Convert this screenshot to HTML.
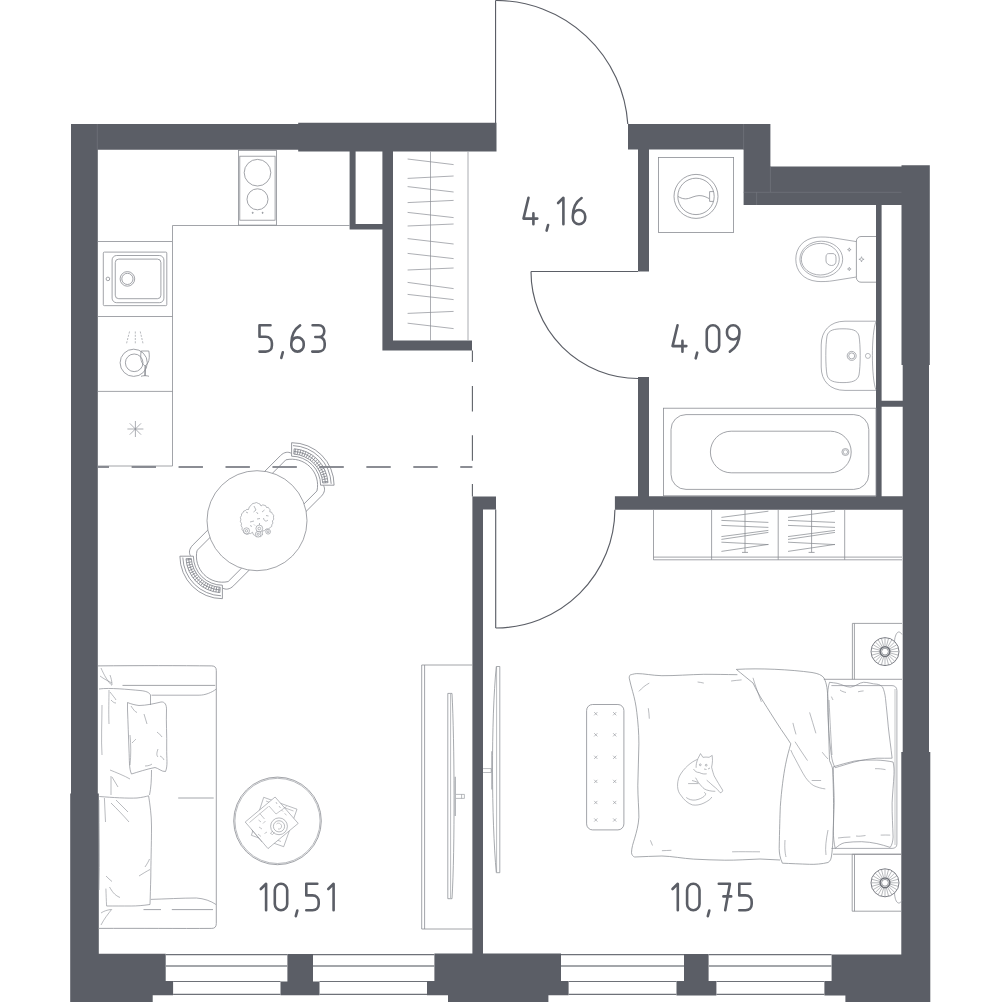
<!DOCTYPE html>
<html><head><meta charset="utf-8"><style>
html,body{margin:0;padding:0;background:#fff;}
svg{display:block;}
</style></head><body>
<svg width="1000" height="1002" viewBox="0 0 1000 1002">
<rect width="1000" height="1002" fill="#fff"/>
<path d="M71,124 H298.2 V122.7 H496.5 V151.6 H393 V340.4 H472 V350.6 H382.4 V229.4 H349.6 V151.6 H298.2 V149.8 H97.8 V793.5 H98.8 V953.7 H165.7 V981 H173.1 V995.3 H152.7 V1002 H70.2 V793.5 H71 Z M355.6,151.6 H382.4 V224 H355.6 Z M287.4,954 H313 V981.4 H319.5 V995.2 H280.5 V981.4 H287.4 Z M472.4,496.4 H496 V509.6 H483 V953.6 H561 V981 H568.6 V995.2 H548.4 V1002 H448 V995.2 H427 V981 H434.4 V953.6 H472.4 Z M684,954 H708.6 V981 H716.4 V995.4 H676.5 V981 H684 Z M628,124 H770.4 V166.4 H901.5 V165.2 H929.8 V365 H929 V752 H930.3 V1002 H845.4 V995.4 H824.4 V981 H831.6 V954.5 H901.3 V752 H902.7 V509.7 H614.9 V496.2 H638 V377 H649 V496.2 H876 V205 H743.6 V149.6 H649 V271.6 H638 V149.6 H628 Z M881.6,205 H901.5 V365 H902.7 V400.8 H881.6 Z M881.6,406.7 H902.7 V496.2 H881.6 Z" fill="#5b5e66" fill-rule="evenodd"/>
<line x1="97.3" y1="124" x2="97.3" y2="150" stroke="#767981" stroke-width="0.6"/>
<line x1="743.6" y1="124" x2="743.6" y2="149.6" stroke="#767981" stroke-width="0.6"/>
<line x1="743.6" y1="192.3" x2="901.5" y2="192.3" stroke="#767981" stroke-width="0.6"/>
<line x1="756.6" y1="192.2" x2="756.6" y2="205" stroke="#767981" stroke-width="0.6"/>
<line x1="770.4" y1="166.4" x2="770.4" y2="192.2" stroke="#767981" stroke-width="0.6"/>
<line x1="165.70" y1="954.60" x2="287.40" y2="954.60" stroke="#6e7178" stroke-width="1.4" />
<line x1="165.70" y1="966.00" x2="287.40" y2="966.00" stroke="#85888e" stroke-width="1.3" />
<line x1="313.00" y1="954.60" x2="434.40" y2="954.60" stroke="#6e7178" stroke-width="1.4" />
<line x1="313.00" y1="966.00" x2="434.40" y2="966.00" stroke="#85888e" stroke-width="1.3" />
<line x1="561.00" y1="954.60" x2="684.00" y2="954.60" stroke="#6e7178" stroke-width="1.4" />
<line x1="561.00" y1="966.00" x2="684.00" y2="966.00" stroke="#85888e" stroke-width="1.3" />
<line x1="708.60" y1="954.60" x2="831.60" y2="954.60" stroke="#6e7178" stroke-width="1.4" />
<line x1="708.60" y1="966.00" x2="831.60" y2="966.00" stroke="#85888e" stroke-width="1.3" />
<line x1="173.10" y1="981.50" x2="280.50" y2="981.50" stroke="#6e7178" stroke-width="1.1" />
<line x1="173.10" y1="994.40" x2="280.50" y2="994.40" stroke="#6e7178" stroke-width="1.1" />
<line x1="319.50" y1="981.50" x2="427.00" y2="981.50" stroke="#6e7178" stroke-width="1.1" />
<line x1="319.50" y1="994.40" x2="427.00" y2="994.40" stroke="#6e7178" stroke-width="1.1" />
<line x1="568.60" y1="981.50" x2="676.50" y2="981.50" stroke="#6e7178" stroke-width="1.1" />
<line x1="568.60" y1="994.40" x2="676.50" y2="994.40" stroke="#6e7178" stroke-width="1.1" />
<line x1="716.40" y1="981.50" x2="824.40" y2="981.50" stroke="#6e7178" stroke-width="1.1" />
<line x1="716.40" y1="994.40" x2="824.40" y2="994.40" stroke="#6e7178" stroke-width="1.1" />
<line x1="495.55" y1="0.50" x2="495.55" y2="123.00" stroke="#5b5e66" stroke-width="1.15" />
<path d="M495.55,0.5 A132.2,132.2 0 0 1 627.8,124" stroke="#5b5e66" stroke-width="1.15" fill="none" />
<line x1="531.00" y1="271.45" x2="638.00" y2="271.45" stroke="#5b5e66" stroke-width="1.15" />
<path d="M531,271.45 A107,107 0 0 0 638,378.45" stroke="#5b5e66" stroke-width="1.15" fill="none" />
<line x1="495.70" y1="509.60" x2="495.70" y2="628.00" stroke="#5b5e66" stroke-width="1.15" />
<path d="M495.7,628 A119.2,119.2 0 0 0 614.9,509.7" stroke="#5b5e66" stroke-width="1.15" fill="none" />
<path d="M97.6,241.5 H172.5 V466 H97.6 M97.6,316.5 H172.5 M97.6,391.4 H172.5 M172.5,241.5 V225.5 H349.6" stroke="#8a8d93" stroke-width="0.8" fill="none" />
<rect x="238.50" y="150.50" width="38.00" height="74.60" rx="0" stroke="#8a8d93" stroke-width="0.8" fill="none"/>
<rect x="239.80" y="156.20" width="35.30" height="64.00" rx="0" stroke="#8a8d93" stroke-width="0.8" fill="none"/>
<circle cx="257.50" cy="172.70" r="13.30" stroke="#8a8d93" stroke-width="0.8" fill="none"/>
<circle cx="257.50" cy="199.30" r="10.50" stroke="#8a8d93" stroke-width="0.8" fill="none"/>
<circle cx="252.70" cy="212.80" r="0.60" stroke="#8a8d93" stroke-width="0.6" fill="#8a8d93"/>
<circle cx="262.60" cy="212.80" r="0.60" stroke="#8a8d93" stroke-width="0.6" fill="#8a8d93"/>
<rect x="103.30" y="252.10" width="63.50" height="53.55" rx="1" stroke="#8a8d93" stroke-width="0.8" fill="none"/>
<rect x="112.10" y="255.50" width="51.80" height="47.20" rx="4.5" stroke="#8a8d93" stroke-width="0.8" fill="none"/>
<rect x="115.25" y="259.10" width="45.65" height="39.60" rx="3.5" stroke="#8a8d93" stroke-width="0.8" fill="none"/>
<circle cx="127.40" cy="278.90" r="7.30" stroke="#8a8d93" stroke-width="0.8" fill="none"/>
<circle cx="127.40" cy="278.90" r="5.60" stroke="#8a8d93" stroke-width="0.8" fill="none"/>
<circle cx="107.90" cy="278.90" r="1.80" stroke="#8a8d93" stroke-width="0.8" fill="none"/>
<circle cx="133.70" cy="362.80" r="13.60" stroke="#8a8d93" stroke-width="0.8" fill="none"/>
<circle cx="134.20" cy="362.80" r="8.80" stroke="#8a8d93" stroke-width="0.8" fill="none"/>
<path d="M141.2,351 H148.8 C149.6,355 149.6,360 147.8,363 C146.8,364.8 145.8,365.6 145,365.6 C144.2,365.6 143.2,364.8 142.2,363 C140.4,360 140.4,355 141.2,351 Z M145,365.6 L144.6,376 M145.6,365.6 L145.4,376 M141,376.3 C143,375.5 147,375.5 149,376.3" stroke="#8a8d93" stroke-width="0.8" fill="none" />
<line x1="129.50" y1="331.50" x2="129.10" y2="333.56" stroke="#8a8d93" stroke-width="0.6"/>
<line x1="128.68" y1="334.75" x2="128.28" y2="336.81" stroke="#8a8d93" stroke-width="0.6"/>
<line x1="127.85" y1="338.00" x2="127.45" y2="340.06" stroke="#8a8d93" stroke-width="0.6"/>
<line x1="127.03" y1="341.25" x2="126.63" y2="343.31" stroke="#8a8d93" stroke-width="0.6"/>
<line x1="135.30" y1="331.50" x2="135.30" y2="333.56" stroke="#8a8d93" stroke-width="0.6"/>
<line x1="135.30" y1="334.75" x2="135.30" y2="336.81" stroke="#8a8d93" stroke-width="0.6"/>
<line x1="135.30" y1="338.00" x2="135.30" y2="340.06" stroke="#8a8d93" stroke-width="0.6"/>
<line x1="135.30" y1="341.25" x2="135.30" y2="343.31" stroke="#8a8d93" stroke-width="0.6"/>
<line x1="140.30" y1="331.50" x2="140.66" y2="333.56" stroke="#8a8d93" stroke-width="0.6"/>
<line x1="141.05" y1="334.75" x2="141.41" y2="336.81" stroke="#8a8d93" stroke-width="0.6"/>
<line x1="141.80" y1="338.00" x2="142.16" y2="340.06" stroke="#8a8d93" stroke-width="0.6"/>
<line x1="142.55" y1="341.25" x2="142.91" y2="343.31" stroke="#8a8d93" stroke-width="0.6"/>
<line x1="127.40" y1="429.00" x2="143.40" y2="429.00" stroke="#8a8d93" stroke-width="0.7" />
<line x1="129.74" y1="423.34" x2="141.06" y2="434.66" stroke="#8a8d93" stroke-width="0.7" />
<line x1="135.40" y1="421.00" x2="135.40" y2="437.00" stroke="#8a8d93" stroke-width="0.7" />
<line x1="141.06" y1="423.34" x2="129.74" y2="434.66" stroke="#8a8d93" stroke-width="0.7" />
<line x1="468.00" y1="151.40" x2="468.00" y2="340.40" stroke="#a0a3a8" stroke-width="0.9" />
<line x1="430.50" y1="151.40" x2="430.50" y2="340.40" stroke="#8a8d93" stroke-width="0.7" />
<line x1="407.60" y1="159.00" x2="453.60" y2="164.60" stroke="#8a8d93" stroke-width="0.7" />
<line x1="407.60" y1="178.40" x2="453.60" y2="176.00" stroke="#8a8d93" stroke-width="0.7" />
<line x1="407.60" y1="186.60" x2="453.60" y2="192.00" stroke="#8a8d93" stroke-width="0.7" />
<line x1="407.60" y1="202.60" x2="453.60" y2="200.40" stroke="#8a8d93" stroke-width="0.7" />
<line x1="407.60" y1="212.40" x2="453.60" y2="217.60" stroke="#8a8d93" stroke-width="0.7" />
<line x1="407.60" y1="226.00" x2="453.60" y2="224.00" stroke="#8a8d93" stroke-width="0.7" />
<line x1="407.60" y1="238.60" x2="453.60" y2="244.00" stroke="#8a8d93" stroke-width="0.7" />
<line x1="407.60" y1="253.40" x2="453.60" y2="258.60" stroke="#8a8d93" stroke-width="0.7" />
<line x1="407.60" y1="270.00" x2="453.60" y2="268.00" stroke="#8a8d93" stroke-width="0.7" />
<line x1="407.60" y1="282.40" x2="453.60" y2="288.60" stroke="#8a8d93" stroke-width="0.7" />
<line x1="407.60" y1="294.40" x2="453.60" y2="299.60" stroke="#8a8d93" stroke-width="0.7" />
<line x1="407.60" y1="313.40" x2="453.60" y2="311.40" stroke="#8a8d93" stroke-width="0.7" />
<line x1="407.60" y1="323.20" x2="453.60" y2="328.60" stroke="#8a8d93" stroke-width="0.7" />
<g fill="none" stroke="#5b5e66" stroke-width="2.6" stroke-linecap="round" stroke-linejoin="round"><path transform="translate(259.50,325.20)" d="M11,0 H0 V11.6 H6.2 C10,11.6 12.4,14.2 12.4,17.9 V20.2 C12.4,23.9 10,26.4 6.2,26.4 H0"/><path transform="translate(282.80,352.30)" d="M0,0 L-1.5,5.6"/><path transform="translate(291.30,325.20)" d="M0,18.4 A6.2,6.2 0 0 1 12.4,18.4 V20.2 A6.2,6.2 0 0 1 0,20.2 Z M0,18.4 C0,9.5 3.4,3.8 8.8,0.2"/><path transform="translate(312.30,325.20)" d="M0.3,0 H6.5 C9.8,0 12,2.5 12,5.8 C12,9.3 9.8,11.8 6.5,11.8 H3 M6.5,11.8 C10,11.8 12.4,14.4 12.4,18 V20.2 C12.4,23.8 10,26.4 6.2,26.4 H0"/><path transform="translate(523.50,197.80)" d="M5,0 L0,20.8 H13.8 M9.9,15.6 V26.4"/><path transform="translate(548.10,225.00)" d="M0,0 L-1.5,5.6"/><path transform="translate(558.10,197.80)" d="M0,5.2 L5.3,0 V26.4"/><path transform="translate(572.80,197.80)" d="M0,18.4 A6.2,6.2 0 0 1 12.4,18.4 V20.2 A6.2,6.2 0 0 1 0,20.2 Z M0,18.4 C0,9.5 3.4,3.8 8.8,0.2"/><path transform="translate(672.55,325.30)" d="M5,0 L0,20.8 H13.8 M9.9,15.6 V26.4"/><path transform="translate(697.20,352.70)" d="M0,0 L-1.5,5.6"/><path transform="translate(706.75,325.30)" d="M0,6.2 A6.2,6.2 0 0 1 12.4,6.2 V20.2 A6.2,6.2 0 0 1 0,20.2 Z"/><path transform="translate(727.00,325.30)" d="M12.4,8 A6.2,6.2 0 0 1 0,8 V6.2 A6.2,6.2 0 0 1 12.4,6.2 Z M12.4,8 C12.4,16.9 8.8,22.8 2.9,26.4"/><path transform="translate(260.80,883.80)" d="M0,5.2 L5.3,0 V26.4"/><path transform="translate(274.80,883.80)" d="M0,6.2 A6.2,6.2 0 0 1 12.4,6.2 V20.2 A6.2,6.2 0 0 1 0,20.2 Z"/><path transform="translate(297.30,910.60)" d="M0,0 L-1.5,5.6"/><path transform="translate(306.30,883.80)" d="M11,0 H0 V11.6 H6.2 C10,11.6 12.4,14.2 12.4,17.9 V20.2 C12.4,23.9 10,26.4 6.2,26.4 H0"/><path transform="translate(328.30,883.80)" d="M0,5.2 L5.3,0 V26.4"/><path transform="translate(672.50,883.80)" d="M0,5.2 L5.3,0 V26.4"/><path transform="translate(687.10,883.80)" d="M0,6.2 A6.2,6.2 0 0 1 12.4,6.2 V20.2 A6.2,6.2 0 0 1 0,20.2 Z"/><path transform="translate(709.30,910.60)" d="M0,0 L-1.5,5.6"/><path transform="translate(718.80,883.80)" d="M0,0 H11.1 L6.4,26.4 M4.6,12.6 H12.4"/><path transform="translate(739.30,883.80)" d="M11,0 H0 V11.6 H6.2 C10,11.6 12.4,14.2 12.4,17.9 V20.2 C12.4,23.9 10,26.4 6.2,26.4 H0"/></g>
<rect x="658.40" y="157.40" width="75.20" height="75.00" rx="0" stroke="#8a8d93" stroke-width="0.8" fill="none"/>
<circle cx="696.00" cy="196.40" r="22.00" stroke="#8a8d93" stroke-width="0.8" fill="none"/>
<circle cx="696.00" cy="196.40" r="18.20" stroke="#8a8d93" stroke-width="0.8" fill="none"/>
<path d="M678,196.4 C682,199 686,199.5 690,198 C694,196.5 698,195 702,195.8 C705,196.4 707,197.5 709,198.5" stroke="#8a8d93" stroke-width="0.8" fill="none" />
<path d="M713.8,191.6 H709.6 V201.4 H713.4" stroke="#8a8d93" stroke-width="0.8" fill="none" />
<path d="M856.4,241.6 L834,238 C828,237 822,236.8 817,237.2 C803,238.5 795.8,248 795.8,259.3 C795.8,270.6 803,280 817,281.4 C822,281.8 828,281.6 834,280.6 L856.4,277" stroke="#8a8d93" stroke-width="0.7" fill="none" />
<ellipse cx="821.3" cy="259.2" rx="21.4" ry="18" stroke="#8a8d93" stroke-width="0.7" fill="none"/>
<ellipse cx="820.3" cy="259.2" rx="19" ry="15.8" stroke="#8a8d93" stroke-width="0.7" fill="none"/>
<path d="M828.5,253.6 H833 C835,253.6 836,255.5 836,258 V261 C836,263.5 834.5,265.5 831.5,265.5 C829,265.5 826,263.5 826,261 V257 C826,255 827,253.6 828.5,253.6 Z" stroke="#8a8d93" stroke-width="0.7" fill="none" />
<path d="M876,236.5 H861 C858.5,236.5 856.4,238.5 856.4,241 V277.7 C856.4,280.2 858.5,282.2 861,282.2 H876" stroke="#8a8d93" stroke-width="0.8" fill="none" />
<path d="M849.3,247.79999999999998 Q849.3,249.6 851.0999999999999,249.6 Q849.3,249.6 849.3,251.4 Q849.3,249.6 847.5,249.6 Q849.3,249.6 849.3,247.79999999999998 Z" stroke="#8a8d93" stroke-width="0.6" fill="none" />
<path d="M849.3,267.2 Q849.3,269 851.0999999999999,269 Q849.3,269 849.3,270.8 Q849.3,269 847.5,269 Q849.3,269 849.3,267.2 Z" stroke="#8a8d93" stroke-width="0.6" fill="none" />
<path d="M861.5,256.7 Q861.5,259.3 864.1,259.3 Q861.5,259.3 861.5,261.90000000000003 Q861.5,259.3 858.9,259.3 Q861.5,259.3 861.5,256.7 Z" stroke="#8a8d93" stroke-width="0.6" fill="none" />
<path d="M876,321.2 H845 C830,321.2 821.2,331 821.2,345 V367 C821.2,381 830,390.4 845,390.4 H876" stroke="#8a8d93" stroke-width="0.7" fill="none" />
<path d="M876,321.5 C871.2,333 871.2,378 876,390" stroke="#8a8d93" stroke-width="0.7" fill="none" />
<path d="M843,328.8 C852,328.8 857.5,330 859,336 C860.6,345 860.6,366 859,375 C857.5,381 852,382.6 843,382.6 C834,382.6 828.5,381 827,375 C825.4,366 825.4,345 827,336 C828.5,330 834,328.8 843,328.8 Z" stroke="#8a8d93" stroke-width="0.7" fill="none" />
<circle cx="851.70" cy="355.90" r="4.50" stroke="#8a8d93" stroke-width="0.7" fill="none"/>
<circle cx="851.70" cy="355.90" r="3.00" stroke="#8a8d93" stroke-width="0.7" fill="none"/>
<circle cx="867.90" cy="355.90" r="2.50" stroke="#8a8d93" stroke-width="0.6" fill="none"/>
<rect x="663.40" y="408.20" width="212.60" height="87.60" rx="0" stroke="#8a8d93" stroke-width="0.8" fill="none"/>
<rect x="671.00" y="414.60" width="197.80" height="74.80" rx="15" stroke="#8a8d93" stroke-width="0.8" fill="none"/>
<rect x="710.40" y="431.20" width="140.80" height="41.60" rx="20.8" stroke="#8a8d93" stroke-width="0.8" fill="none"/>
<circle cx="845.40" cy="452.00" r="3.50" stroke="#8a8d93" stroke-width="0.7" fill="none"/>
<circle cx="845.40" cy="452.00" r="2.20" stroke="#8a8d93" stroke-width="0.6" fill="none"/>
<path d="M653.5,509.6 V559.8 H902 M653.5,557.1 H902 M711.6,509.6 V559.8 M778.2,509.6 V559.8 M844.7,509.6 V559.8" stroke="#8a8d93" stroke-width="0.8" fill="none" />
<line x1="745.00" y1="509.60" x2="745.00" y2="552.40" stroke="#8a8d93" stroke-width="0.8" />
<line x1="742.00" y1="552.40" x2="748.00" y2="552.40" stroke="#8a8d93" stroke-width="0.8" />
<line x1="721.40" y1="517.40" x2="768.40" y2="511.20" stroke="#8a8d93" stroke-width="0.75" />
<line x1="721.40" y1="520.40" x2="768.40" y2="522.40" stroke="#8a8d93" stroke-width="0.75" />
<line x1="721.40" y1="525.40" x2="768.40" y2="527.40" stroke="#8a8d93" stroke-width="0.75" />
<line x1="721.40" y1="536.60" x2="768.40" y2="530.40" stroke="#8a8d93" stroke-width="0.75" />
<line x1="721.40" y1="539.40" x2="768.40" y2="532.40" stroke="#8a8d93" stroke-width="0.75" />
<line x1="721.40" y1="542.20" x2="768.40" y2="544.60" stroke="#8a8d93" stroke-width="0.75" />
<line x1="721.40" y1="551.40" x2="768.40" y2="544.40" stroke="#8a8d93" stroke-width="0.75" />
<line x1="811.60" y1="509.60" x2="811.60" y2="552.40" stroke="#8a8d93" stroke-width="0.8" />
<line x1="808.60" y1="552.40" x2="814.60" y2="552.40" stroke="#8a8d93" stroke-width="0.8" />
<line x1="788.00" y1="517.40" x2="835.00" y2="511.20" stroke="#8a8d93" stroke-width="0.75" />
<line x1="788.00" y1="520.40" x2="835.00" y2="522.40" stroke="#8a8d93" stroke-width="0.75" />
<line x1="788.00" y1="525.40" x2="835.00" y2="527.40" stroke="#8a8d93" stroke-width="0.75" />
<line x1="788.00" y1="536.60" x2="835.00" y2="530.40" stroke="#8a8d93" stroke-width="0.75" />
<line x1="788.00" y1="539.40" x2="835.00" y2="532.40" stroke="#8a8d93" stroke-width="0.75" />
<line x1="788.00" y1="542.20" x2="835.00" y2="544.60" stroke="#8a8d93" stroke-width="0.75" />
<line x1="788.00" y1="551.40" x2="835.00" y2="544.40" stroke="#8a8d93" stroke-width="0.75" />
<path d="M98,665.9 C140,665.5 180,665.6 211.8,665.9 Q216.3,666 216.3,670.5 V923.5 Q216.3,928.4 211.8,928.4 C180,928.6 140,928.2 98,928.4" stroke="#8a8d93" stroke-width="0.8" fill="none" />
<path d="M122.5,685.4 H215.2" stroke="#8a8d93" stroke-width="0.8" fill="none" />
<path d="M216.3,689 C212,692.5 205,695.2 199.2,695.2 H151.5" stroke="#8a8d93" stroke-width="0.7" fill="none" />
<path d="M150.8,899.4 C165,899 182,898 196.4,898 C204,898.5 211,901 216,904.5" stroke="#8a8d93" stroke-width="0.7" fill="none" />
<path d="M143.5,909.6 H161 M171.8,909.6 H213" stroke="#8a8d93" stroke-width="0.8" fill="none" />
<path d="M178.2,798 H213.7" stroke="#a3a6ab" stroke-width="1.0" fill="none" />
<path d="M99,689 C110,687.5 128,689.5 140,690.5 C146,691 149.5,692.5 150.5,695 V705 M151.5,770 C151.5,780 151,788 149.5,795" stroke="#8a8d93" stroke-width="0.7" fill="none" />
<path d="M99.3,796.5 C112,797.5 128,798.5 137,798 C142,797.5 146,796.5 148.6,795.8 C150,805 151.5,815 151.5,826 C151.5,845 150.8,865 150.8,877 C150.5,887 150.3,896 150,904.5 C143,905.5 137,906 131.2,906 C122,906 114,906 106.6,906" stroke="#8a8d93" stroke-width="0.7" fill="none" />
<path d="M101,668 C104,675 108,682 112,685.5" stroke="#8a8d93" stroke-width="0.6" fill="none" />
<path d="M100,676 C104,679 108,681 112,683" stroke="#8a8d93" stroke-width="0.6" fill="none" />
<path d="M110,675 C111,678 112,681 112,685" stroke="#8a8d93" stroke-width="0.6" fill="none" />
<path d="M102,705 C102,720 101,740 102,755" stroke="#8a8d93" stroke-width="0.6" fill="none" />
<path d="M109,690 C109,700 108.5,710 109,724" stroke="#8a8d93" stroke-width="0.6" fill="none" />
<path d="M110,692 C113,696 115,698 116,700" stroke="#8a8d93" stroke-width="0.6" fill="none" />
<path d="M111,700 C113,702 114,703 116,703" stroke="#8a8d93" stroke-width="0.6" fill="none" />
<path d="M110,770 C115,772 125,776 130,779" stroke="#8a8d93" stroke-width="0.6" fill="none" />
<path d="M111,776 C111,782 111,790 111,795" stroke="#8a8d93" stroke-width="0.6" fill="none" />
<path d="M112,777 C114,780 116,784 118,787" stroke="#8a8d93" stroke-width="0.6" fill="none" />
<path d="M104.4,798 C104.8,806 105.2,814 105.5,822" stroke="#8a8d93" stroke-width="0.6" fill="none" />
<path d="M105.9,888.6 C106.1,895 106.3,900 106.6,906" stroke="#8a8d93" stroke-width="0.6" fill="none" />
<path d="M111,803 C117,809 123,815 129,822" stroke="#8a8d93" stroke-width="0.6" fill="none" />
<path d="M116,800 C120,804 124,808 128,812" stroke="#8a8d93" stroke-width="0.6" fill="none" />
<path d="M106,876 C108,878 110,880 112,881.5" stroke="#8a8d93" stroke-width="0.6" fill="none" />
<path d="M109.5,887 C112,891 114,895 120,897.5" stroke="#8a8d93" stroke-width="0.6" fill="none" />
<path d="M139,876 C143,873.5 147,871 150,869.5" stroke="#8a8d93" stroke-width="0.6" fill="none" />
<path d="M145,867 C147,864 148.5,861.5 149.5,859" stroke="#8a8d93" stroke-width="0.6" fill="none" />
<path d="M101,913 C104,911 107,910 111,909.5" stroke="#8a8d93" stroke-width="0.6" fill="none" />
<path d="M101,925 C104,919 108,914 112,909" stroke="#8a8d93" stroke-width="0.6" fill="none" />
<path d="M99,800 C99,830 100,860 99,890" stroke="#8a8d93" stroke-width="0.6" fill="none" />
<path d="M127.5,702.5 C131,704 135,705 139,705.5 C146,705.5 155,703.5 161,702 C165,701.5 166.7,705 166.5,710 C166,722 167,735 166.7,748 C166.5,758 168,766 165.5,771.5 C162,772 158,768 155,767.5 C147,769 138,772 131.5,774 C129,769 129.5,760 129,750 C128.5,737 128,722 127.5,710 Z" stroke="#8a8d93" stroke-width="0.7" fill="none" />
<path d="M131,706 C133,709 135,712 137,712.5" stroke="#8a8d93" stroke-width="0.6" fill="none" />
<path d="M144,714 C145,717 146,721 147,724" stroke="#8a8d93" stroke-width="0.6" fill="none" />
<path d="M157,732 C159,734 161,735 162,737" stroke="#8a8d93" stroke-width="0.6" fill="none" />
<path d="M158,749 C157,752 156,755 158,757" stroke="#8a8d93" stroke-width="0.6" fill="none" />
<path d="M160,756 C162,757 163,758 164,760" stroke="#8a8d93" stroke-width="0.6" fill="none" />
<path d="M130,735 C131,745 131,755 130,765" stroke="#8a8d93" stroke-width="0.6" fill="none" />
<path d="M132,743 C134,741 135,740 136,739" stroke="#8a8d93" stroke-width="0.6" fill="none" />
<path d="M145,766 C148,766 151,765 152,764" stroke="#8a8d93" stroke-width="0.6" fill="none" />
<circle cx="277.50" cy="820.90" r="43.80" stroke="#8a8d93" stroke-width="0.8" fill="none"/>
<circle cx="277.50" cy="820.90" r="42.60" stroke="#8a8d93" stroke-width="0.6" fill="none"/>
<path d="M263.7,797.3 L297,809.2 L283.7,846.7 L251.4,835.3 Z" stroke="#8a8d93" stroke-width="0.6" fill="#fff" />
<path d="M266,801 L293.5,811 M256,832 L281,841.5" stroke="#8a8d93" stroke-width="0.5" fill="none" />
<path d="M275.1,797 L298.2,823.4 L268,848.6 L245.2,822 Z" stroke="#8a8d93" stroke-width="0.6" fill="#fff" />
<path d="M249.5,822.5 L268.5,806.5 M259.8,813.5 L264.5,819 M269,806 L276,814 L286.5,806.5 M262,842 L251.5,829.5" stroke="#8a8d93" stroke-width="0.5" fill="none" />
<path d="M276,802 L277,804 M279,806 L280.5,808 M281.5,810 L283,811.5 M284.5,813.5 L286.5,815 M258.5,820 L261,822 M263,823.5 L265.5,821 M259,827 L262,829 M258,834 L261,836.5 M264.5,833.5 L267,832" stroke="#8a8d93" stroke-width="0.5" fill="none" />
<circle cx="279.00" cy="826.30" r="8.40" stroke="#8a8d93" stroke-width="0.6" fill="#fff"/>
<circle cx="279.00" cy="826.30" r="5.60" stroke="#8a8d93" stroke-width="0.6" fill="none"/>
<path d="M276.5,824 C278,822.5 280.5,823 281.5,825.5 C282,828 280,829.5 278,829 M272.5,831 L270.5,833.5 L272.5,834.5 L274.5,832.5" stroke="#8a8d93" stroke-width="0.5" fill="none" />
<path d="M421.7,665 H472.4 M421.7,929 H472.4 M421.7,665 V929 M424.6,665 V929" stroke="#8a8d93" stroke-width="0.8" fill="none" />
<path d="M447.8,693.4 H452 C454.5,740 455,850 452,898.7 H447.8 Z" stroke="#8a8d93" stroke-width="0.75" fill="none" />
<path d="M450.6,694 V898" stroke="#8a8d93" stroke-width="0.6" fill="none" />
<path d="M455.2,776.8 V815.9" stroke="#a3a6ab" stroke-width="1.2" fill="none" />
<path d="M456,794.4 H464.4 V798.4 H456 M461.6,794.4 V798.4" stroke="#8a8d93" stroke-width="0.6" fill="none" />
<path d="M496.3,666.5 H499.8 V872.7 H496.3 C491.5,820 491,720 496.3,666.5 Z" stroke="#8a8d93" stroke-width="0.75" fill="none" />
<path d="M496.6,667 V872" stroke="#8a8d93" stroke-width="0.6" fill="none" />
<path d="M491.9,751.2 V789.4" stroke="#a3a6ab" stroke-width="1.2" fill="none" />
<path d="M483.1,768.6 H491.2 V772.5 H483.1" stroke="#8a8d93" stroke-width="0.6" fill="none" />
<g transform="translate(291.6,485.2) rotate(-45)" stroke="#7e8188" stroke-width="0.75" fill="none"><path d="M20.51,-20.51 L30.05,-30.05 A42.5,42.5 0 0 1 30.05,30.05 L20.51,20.51 A29,29 0 0 0 20.51,-20.51 Z"/><path d="M28.96,-27.01 A39.6,39.6 0 0 1 28.96,27.01"/><path d="M27.55,-23.95 A36.5,36.5 0 0 1 27.55,23.95"/><path d="M23.55,-20.47 A31.2,31.2 0 0 1 23.55,20.47"/><path d="M25.58,-22.24 A33.9,33.9 0 0 1 25.58,22.24"/><line x1="24.25" y1="-19.63" x2="28.37" y2="-22.97"/><line x1="25.66" y1="-17.75" x2="30.02" y2="-20.76"/><line x1="26.93" y1="-15.76" x2="31.50" y2="-18.43"/><line x1="28.04" y1="-13.68" x2="32.81" y2="-16.00"/><line x1="29.00" y1="-11.52" x2="33.92" y2="-13.48"/><line x1="29.78" y1="-9.30" x2="34.84" y2="-10.87"/><line x1="30.40" y1="-7.02" x2="35.56" y2="-8.21"/><line x1="30.84" y1="-4.70" x2="36.08" y2="-5.50"/><line x1="31.11" y1="-2.36" x2="36.40" y2="-2.76"/><line x1="31.20" y1="0.00" x2="36.50" y2="0.00"/><line x1="31.11" y1="2.36" x2="36.40" y2="2.76"/><line x1="30.84" y1="4.70" x2="36.08" y2="5.50"/><line x1="30.40" y1="7.02" x2="35.56" y2="8.21"/><line x1="29.78" y1="9.30" x2="34.84" y2="10.87"/><line x1="29.00" y1="11.52" x2="33.92" y2="13.48"/><line x1="28.04" y1="13.68" x2="32.81" y2="16.00"/><line x1="26.93" y1="15.76" x2="31.50" y2="18.43"/><line x1="25.66" y1="17.75" x2="30.02" y2="20.76"/><line x1="24.25" y1="19.63" x2="28.37" y2="22.97"/><line x1="23.55" y1="-20.47" x2="27.55" y2="-23.95"/><line x1="23.55" y1="20.47" x2="27.55" y2="23.95"/><path d="M-12,-28.8 L13,-28.8 C18.5,-28.8 21.5,-26 22.3,-22.9 M-12,28.8 L13,28.8 C18.5,28.8 21.5,26 22.3,22.9"/><path d="M-12,-22 L13.86,-22 A26,26 0 0 1 13.86,22 L-12,22"/></g>
<g transform="translate(222.4,556.2) rotate(135)" stroke="#7e8188" stroke-width="0.75" fill="none"><path d="M20.51,-20.51 L30.05,-30.05 A42.5,42.5 0 0 1 30.05,30.05 L20.51,20.51 A29,29 0 0 0 20.51,-20.51 Z"/><path d="M28.96,-27.01 A39.6,39.6 0 0 1 28.96,27.01"/><path d="M27.55,-23.95 A36.5,36.5 0 0 1 27.55,23.95"/><path d="M23.55,-20.47 A31.2,31.2 0 0 1 23.55,20.47"/><path d="M25.58,-22.24 A33.9,33.9 0 0 1 25.58,22.24"/><line x1="24.25" y1="-19.63" x2="28.37" y2="-22.97"/><line x1="25.66" y1="-17.75" x2="30.02" y2="-20.76"/><line x1="26.93" y1="-15.76" x2="31.50" y2="-18.43"/><line x1="28.04" y1="-13.68" x2="32.81" y2="-16.00"/><line x1="29.00" y1="-11.52" x2="33.92" y2="-13.48"/><line x1="29.78" y1="-9.30" x2="34.84" y2="-10.87"/><line x1="30.40" y1="-7.02" x2="35.56" y2="-8.21"/><line x1="30.84" y1="-4.70" x2="36.08" y2="-5.50"/><line x1="31.11" y1="-2.36" x2="36.40" y2="-2.76"/><line x1="31.20" y1="0.00" x2="36.50" y2="0.00"/><line x1="31.11" y1="2.36" x2="36.40" y2="2.76"/><line x1="30.84" y1="4.70" x2="36.08" y2="5.50"/><line x1="30.40" y1="7.02" x2="35.56" y2="8.21"/><line x1="29.78" y1="9.30" x2="34.84" y2="10.87"/><line x1="29.00" y1="11.52" x2="33.92" y2="13.48"/><line x1="28.04" y1="13.68" x2="32.81" y2="16.00"/><line x1="26.93" y1="15.76" x2="31.50" y2="18.43"/><line x1="25.66" y1="17.75" x2="30.02" y2="20.76"/><line x1="24.25" y1="19.63" x2="28.37" y2="22.97"/><line x1="23.55" y1="-20.47" x2="27.55" y2="-23.95"/><line x1="23.55" y1="20.47" x2="27.55" y2="23.95"/><path d="M-12,-28.8 L13,-28.8 C18.5,-28.8 21.5,-26 22.3,-22.9 M-12,28.8 L13,28.8 C18.5,28.8 21.5,26 22.3,22.9"/><path d="M-12,-22 L13.86,-22 A26,26 0 0 1 13.86,22 L-12,22"/></g>
<circle cx="257.00" cy="520.70" r="50.00" stroke="#8a8d93" stroke-width="0.8" fill="#fff"/>
<g stroke="#8a8d93" stroke-width="0.6" fill="none"><path d="M248.5,509.5 Q248.9,506.2 251,505.5 Q252.3,502.8 254.5,503.2 Q256.4,501.8 258.5,503.5 Q260.0,503.2 261,506 Q263.0,504.1 264,505.2 Q266.1,505.0 266.5,507.5 Q268.8,506.8 269,508.5 Q270.7,509.2 269.8,511.8 Q272.4,511.9 272.2,513.5 Q274.4,515.1 273.5,517.5 Q274.5,519.2 272.4,521 Q273.7,523.3 271.8,524.8 Q272.4,526.9 270.2,527.5 Q269.3,529.3 266,529 Q264.8,531.4 262,531 Q262.8,534.5 262.5,535 Q260.8,537.4 258.5,536.6 Q256.4,537.5 254.5,535.3 Q253.1,535.3 252.5,532.2 Q250.3,534.3 249.5,533.5 Q246.8,535.1 246,534 Q243.5,533.6 243.2,531 Q241.4,530.1 242.2,527.5 Q240.4,526.1 241.5,523.5 Q239.6,521.7 240.8,519.5 Q239.6,517.3 241.5,515.5 Q240.8,513.5 243.2,512.5 Q243.0,510.7 245.6,510.5 Q245.9,508.9 248.5,509.5"/><path d="M254,506 L256,510 L253.5,512"/><path d="M256.5,512 L258,514"/><path d="M262,512 L264.5,510"/><path d="M266,515.5 L268.5,516"/><path d="M263.5,518 C264,521 266,522 268,520"/><path d="M257,519 L260,518.5"/><path d="M250,522 L254,521"/><path d="M250.5,525 L251.5,527"/><path d="M254,524.5 L255,525.5"/><path d="M246,512 L248,513"/><path d="M259.5,523 L259.5,525"/><circle cx="246.5" cy="530.8" r="3.0" fill="#fff"/><circle cx="246.5" cy="530.8" r="1.20"/><circle cx="259.3" cy="528.5" r="3.4" fill="#fff"/><circle cx="259.3" cy="528.5" r="1.36"/><circle cx="258.2" cy="534.2" r="2.8" fill="#fff"/><circle cx="258.2" cy="534.2" r="1.12"/><circle cx="268.1" cy="531.7" r="2.4" fill="#fff"/><circle cx="268.1" cy="531.7" r="0.96"/></g>
<line x1="97.50" y1="467.00" x2="109.00" y2="467.00" stroke="#7e8188" stroke-width="1.8" />
<line x1="131.60" y1="467.00" x2="156.00" y2="467.00" stroke="#7e8188" stroke-width="1.8" />
<line x1="178.55" y1="467.00" x2="202.95" y2="467.00" stroke="#7e8188" stroke-width="1.8" />
<line x1="225.50" y1="467.00" x2="249.90" y2="467.00" stroke="#7e8188" stroke-width="1.8" />
<line x1="272.45" y1="467.00" x2="296.85" y2="467.00" stroke="#7e8188" stroke-width="1.8" />
<line x1="319.40" y1="467.00" x2="343.80" y2="467.00" stroke="#7e8188" stroke-width="1.8" />
<line x1="366.35" y1="467.00" x2="390.75" y2="467.00" stroke="#7e8188" stroke-width="1.8" />
<line x1="413.30" y1="467.00" x2="437.70" y2="467.00" stroke="#7e8188" stroke-width="1.8" />
<line x1="460.25" y1="467.00" x2="472.40" y2="467.00" stroke="#7e8188" stroke-width="1.8" />
<line x1="472.40" y1="350.60" x2="472.40" y2="362.00" stroke="#5e6168" stroke-width="1.1" />
<line x1="472.40" y1="386.00" x2="472.40" y2="411.50" stroke="#5e6168" stroke-width="1.1" />
<line x1="472.40" y1="435.20" x2="472.40" y2="460.80" stroke="#5e6168" stroke-width="1.1" />
<line x1="472.40" y1="484.00" x2="472.40" y2="496.40" stroke="#5e6168" stroke-width="1.1" />
<path d="M902,623.4 H852.4 V679.4 M854.4,623.4 V679.4" stroke="#8a8d93" stroke-width="0.8" fill="none" />
<path d="M902,854.3 H852.2 V911.2 H902 M854.5,854.3 V911.2" stroke="#8a8d93" stroke-width="0.8" fill="none" />
<g stroke="#6f7279" fill="none"><circle cx="885" cy="651.6" r="14" stroke-width="0.9"/><circle cx="885" cy="651.6" r="4.9" stroke-width="1.5"/><circle cx="885" cy="651.6" r="3.4" stroke-width="0.7"/><line x1="890.40" y1="651.60" x2="898.60" y2="651.60" stroke-width="0.5"/><line x1="890.22" y1="653.00" x2="898.14" y2="655.12" stroke-width="0.5"/><line x1="889.68" y1="654.30" x2="896.78" y2="658.40" stroke-width="0.5"/><line x1="888.82" y1="655.42" x2="894.62" y2="661.22" stroke-width="0.5"/><line x1="887.70" y1="656.28" x2="891.80" y2="663.38" stroke-width="0.5"/><line x1="886.40" y1="656.82" x2="888.52" y2="664.74" stroke-width="0.5"/><line x1="885.00" y1="657.00" x2="885.00" y2="665.20" stroke-width="0.5"/><line x1="883.60" y1="656.82" x2="881.48" y2="664.74" stroke-width="0.5"/><line x1="882.30" y1="656.28" x2="878.20" y2="663.38" stroke-width="0.5"/><line x1="881.18" y1="655.42" x2="875.38" y2="661.22" stroke-width="0.5"/><line x1="880.32" y1="654.30" x2="873.22" y2="658.40" stroke-width="0.5"/><line x1="879.78" y1="653.00" x2="871.86" y2="655.12" stroke-width="0.5"/><line x1="879.60" y1="651.60" x2="871.40" y2="651.60" stroke-width="0.5"/><line x1="879.78" y1="650.20" x2="871.86" y2="648.08" stroke-width="0.5"/><line x1="880.32" y1="648.90" x2="873.22" y2="644.80" stroke-width="0.5"/><line x1="881.18" y1="647.78" x2="875.38" y2="641.98" stroke-width="0.5"/><line x1="882.30" y1="646.92" x2="878.20" y2="639.82" stroke-width="0.5"/><line x1="883.60" y1="646.38" x2="881.48" y2="638.46" stroke-width="0.5"/><line x1="885.00" y1="646.20" x2="885.00" y2="638.00" stroke-width="0.5"/><line x1="886.40" y1="646.38" x2="888.52" y2="638.46" stroke-width="0.5"/><line x1="887.70" y1="646.92" x2="891.80" y2="639.82" stroke-width="0.5"/><line x1="888.82" y1="647.78" x2="894.62" y2="641.98" stroke-width="0.5"/><line x1="889.68" y1="648.90" x2="896.78" y2="644.80" stroke-width="0.5"/><line x1="890.22" y1="650.20" x2="898.14" y2="648.08" stroke-width="0.5"/></g>
<g stroke="#6f7279" fill="none"><circle cx="885" cy="882.8" r="14" stroke-width="0.9"/><circle cx="885" cy="882.8" r="4.9" stroke-width="1.5"/><circle cx="885" cy="882.8" r="3.4" stroke-width="0.7"/><line x1="890.40" y1="882.80" x2="898.60" y2="882.80" stroke-width="0.5"/><line x1="890.22" y1="884.20" x2="898.14" y2="886.32" stroke-width="0.5"/><line x1="889.68" y1="885.50" x2="896.78" y2="889.60" stroke-width="0.5"/><line x1="888.82" y1="886.62" x2="894.62" y2="892.42" stroke-width="0.5"/><line x1="887.70" y1="887.48" x2="891.80" y2="894.58" stroke-width="0.5"/><line x1="886.40" y1="888.02" x2="888.52" y2="895.94" stroke-width="0.5"/><line x1="885.00" y1="888.20" x2="885.00" y2="896.40" stroke-width="0.5"/><line x1="883.60" y1="888.02" x2="881.48" y2="895.94" stroke-width="0.5"/><line x1="882.30" y1="887.48" x2="878.20" y2="894.58" stroke-width="0.5"/><line x1="881.18" y1="886.62" x2="875.38" y2="892.42" stroke-width="0.5"/><line x1="880.32" y1="885.50" x2="873.22" y2="889.60" stroke-width="0.5"/><line x1="879.78" y1="884.20" x2="871.86" y2="886.32" stroke-width="0.5"/><line x1="879.60" y1="882.80" x2="871.40" y2="882.80" stroke-width="0.5"/><line x1="879.78" y1="881.40" x2="871.86" y2="879.28" stroke-width="0.5"/><line x1="880.32" y1="880.10" x2="873.22" y2="876.00" stroke-width="0.5"/><line x1="881.18" y1="878.98" x2="875.38" y2="873.18" stroke-width="0.5"/><line x1="882.30" y1="878.12" x2="878.20" y2="871.02" stroke-width="0.5"/><line x1="883.60" y1="877.58" x2="881.48" y2="869.66" stroke-width="0.5"/><line x1="885.00" y1="877.40" x2="885.00" y2="869.20" stroke-width="0.5"/><line x1="886.40" y1="877.58" x2="888.52" y2="869.66" stroke-width="0.5"/><line x1="887.70" y1="878.12" x2="891.80" y2="871.02" stroke-width="0.5"/><line x1="888.82" y1="878.98" x2="894.62" y2="873.18" stroke-width="0.5"/><line x1="889.68" y1="880.10" x2="896.78" y2="876.00" stroke-width="0.5"/><line x1="890.22" y1="881.40" x2="898.14" y2="879.28" stroke-width="0.5"/></g>
<path d="M894.5,641 C895,636 896.5,632.5 898.5,632 C900,631.8 901,633 902,634.5" stroke="#8a8d93" stroke-width="0.7" fill="none" />
<path d="M894.5,893 C894.8,898 896,902.5 898.5,903 C900,903.2 901,902 902,900.5" stroke="#8a8d93" stroke-width="0.7" fill="none" />
<path d="M823.8,679.3 H902 M833,854.2 H902" stroke="#8a8d93" stroke-width="0.8" fill="none" />
<path d="M831.4,685.6 H892 C895,685.6 896.9,687.5 896.9,690.5 V844 C896.9,847 895,848.4 892,848.4 H831.4" stroke="#8a8d93" stroke-width="0.7" fill="none" />
<path d="M895,689 V845" stroke="#8a8d93" stroke-width="0.5" fill="none" />
<path d="M829.5,682.3 C832,682.5 834.5,683 837.1,683.3 C842,684.5 846,687 850.4,687.1 C855,687 859,682.5 863.6,682.3 C868,682.2 872,684 876.9,684.2 C879,684.3 881,685.5 882.6,687.1 C884,690 885,694 885.5,698.5 C886.5,708 887.5,718 888.3,726.9 C889.5,738 891,748 892.1,758.2 C887,758.5 882,758 876.9,758.2 C869,759 862,760 854.2,762 C847,764 841,766 835.2,767.7 C833,764 832,760 831.4,755.4 C830,746 829,736 828.5,726.9 C828,717 827.5,708 827.6,698.5 C827.6,692 828,687 829.5,682.3 Z" stroke="#8a8d93" stroke-width="0.7" fill="none" />
<path d="M833.3,766.8 C840,765 847,762.5 854.2,761.1 C861,760 869,760 876.9,760.1 C882,760.2 888,761 893.1,762 C894,766 894.2,770 894,774.4 C893.5,784 892.5,794 892.1,802.8 C892,815 892.8,826 893.1,837 C893,841 892,845 890.2,847.4 C886,846 881,844.5 876.9,843.6 C872,842.5 867,841.9 861.7,841.7 C856,841.6 850,842 844.7,842.7 C841,843.5 838,846 835.2,848.4 C834,843 833.4,837 833.3,831.3 C833.3,822 834,812 834.2,802.8 C834.2,793 833.5,783 833.3,774.4 Z" stroke="#8a8d93" stroke-width="0.7" fill="none" />
<path d="M831.4,696.6 C832,698 832.5,699 833,700" stroke="#8a8d93" stroke-width="0.6" fill="none" />
<path d="M858,691.8 C860,691.3 862,691 863.6,690.9" stroke="#8a8d93" stroke-width="0.6" fill="none" />
<path d="M840,690 C842,691.5 844,692 846,692.5" stroke="#8a8d93" stroke-width="0.6" fill="none" />
<path d="M875,768.7 C879,768.5 882,769 885.5,769.6" stroke="#8a8d93" stroke-width="0.6" fill="none" />
<path d="M838,838 C842,837.5 846,837 850.4,837" stroke="#8a8d93" stroke-width="0.6" fill="none" />
<path d="M856,836 C859,836.5 862,836 865.5,835.5" stroke="#8a8d93" stroke-width="0.6" fill="none" />
<path d="M880.7,835.1 C884,835 887,835 890.2,835.1" stroke="#8a8d93" stroke-width="0.6" fill="none" />
<path d="M829,700 C830,720 831,740 832,755" stroke="#8a8d93" stroke-width="0.6" fill="none" />
<path d="M737.4,674.7 C725,674.5 715,674.3 703.8,674.3 C690,674.6 675,675.8 661.9,675.7 C652,675.5 644,673.5 636.8,673.6 C633.5,673.7 631,675 630.5,674.7 C629.2,676 629,677.5 629.4,678.9 C630.2,683 631.5,687 632.6,691.4 C634.5,698 636,705 636.8,712.4 C638,722 638.9,733 638.9,743.8 C638.9,758 637.8,772 637.8,785.8 C637.8,797 638.9,808 638.9,817.2 C638.5,825 636.5,832 634.7,838.2 C633.2,843 631.5,848 631.5,852.8 C631.8,855 633,856.5 634.7,857 C644,856.8 653,856 661.9,856 C672,856.2 683,858.5 693.4,859.1 C704,859.7 714,860 724.8,860.2 C736,860.3 748,859.5 760,859 L780,860" stroke="#8a8d93" stroke-width="0.75" fill="none" />
<path d="M638.9,691.4 C642,688 645.5,685 649.3,683.1" stroke="#8a8d93" stroke-width="0.6" fill="none" />
<path d="M697.6,682 C699.5,682.2 701.8,682.6 703.8,683.1" stroke="#8a8d93" stroke-width="0.6" fill="none" />
<path d="M731.1,681 C734.5,680.5 738,680.2 741.6,679.9" stroke="#8a8d93" stroke-width="0.6" fill="none" />
<path d="M648.3,708.2 C648.8,711.5 649.2,715 649.3,718.7" stroke="#8a8d93" stroke-width="0.6" fill="none" />
<path d="M650.4,840.3 C651,842 651.7,843.8 652.5,845.5" stroke="#8a8d93" stroke-width="0.6" fill="none" />
<path d="M661.9,850.7 C665,850.6 668,850.4 671.4,850.3" stroke="#8a8d93" stroke-width="0.6" fill="none" />
<path d="M732.1,851.8 C741,851.6 750,851.8 760,851.8" stroke="#8a8d93" stroke-width="0.6" fill="none" />
<path d="M736.3,669.4 C760,668 790,669.5 812,672.5 C818,673.5 822,675 824,678 C827,684 827.4,690 828,700 C828.5,725 829,745 829.5,760.6 C831,764 832.5,767 832.7,770 C833.5,790 833.7,806.7 833.5,820 C833.2,835 832.7,848.6 831.5,856 C831,859 830.6,861 828,862.5 C822,864 815,864.5 809.6,864.3 C800,864 790,863.5 782.4,863.2 C780,858 779.2,853 779.2,848.6 C779.5,830 780,815 780.3,806.7 C781.5,790 783.5,775 785.5,764.8 C787,757 789,750 790.8,743.8" stroke="#8a8d93" stroke-width="0.75" fill="none" />
<path d="M736.3,669.4 C742,674 748,679 753,683 C756,689 759,695 763.5,701.9 C768,709 773,717 778.2,725 C782,731 786.5,737 790.8,743.8" stroke="#8a8d93" stroke-width="0.75" fill="none" />
<path d="M790.8,750 C792,753 793.5,756 795,758.5 C799,766 802,772 805.4,777.3 C808,781 811,784 813.8,785.7 C818,787.5 821.5,788.5 825.3,788.9" stroke="#8a8d93" stroke-width="0.6" fill="none" />
<path d="M795,741.7 C799,748 803,754 807.5,760.6" stroke="#8a8d93" stroke-width="0.6" fill="none" />
<path d="M809.6,712.4 C811.5,719 813.8,726 815.9,733.3" stroke="#8a8d93" stroke-width="0.6" fill="none" />
<path d="M792.9,722.9 C793.8,727 795,731 796,734.4" stroke="#8a8d93" stroke-width="0.6" fill="none" />
<path d="M811.7,780.5 H821.1" stroke="#8a8d93" stroke-width="0.6" fill="none" />
<path d="M822.2,752.2 C824,754.5 826,757 828,759" stroke="#8a8d93" stroke-width="0.6" fill="none" />
<path d="M753,677.8 C755,685 758,693 761.4,701.9" stroke="#8a8d93" stroke-width="0.6" fill="none" />
<path d="M785,840 C784.5,848 785,853 786,857" stroke="#8a8d93" stroke-width="0.6" fill="none" />
<path d="M828,830 C826,840 825,848 826,855" stroke="#8a8d93" stroke-width="0.6" fill="none" />
<rect x="586.60" y="704.50" width="37.30" height="125.40" rx="6" stroke="#8a8d93" stroke-width="0.8" fill="none"/>
<path d="M594.1999999999999,712.1 L597.4,715.3000000000001 M597.4,712.1 L594.1999999999999,715.3000000000001" stroke="#8a8d93" stroke-width="0.6" fill="none" />
<path d="M594.1999999999999,733.1999999999999 L597.4,736.4 M597.4,733.1999999999999 L594.1999999999999,736.4" stroke="#8a8d93" stroke-width="0.6" fill="none" />
<path d="M594.1999999999999,755.6999999999999 L597.4,758.9 M597.4,755.6999999999999 L594.1999999999999,758.9" stroke="#8a8d93" stroke-width="0.6" fill="none" />
<path d="M594.1999999999999,779.8 L597.4,783.0 M597.4,779.8 L594.1999999999999,783.0" stroke="#8a8d93" stroke-width="0.6" fill="none" />
<path d="M594.1999999999999,800.9 L597.4,804.1 M597.4,800.9 L594.1999999999999,804.1" stroke="#8a8d93" stroke-width="0.6" fill="none" />
<path d="M594.1999999999999,818.4 L597.4,821.6 M597.4,818.4 L594.1999999999999,821.6" stroke="#8a8d93" stroke-width="0.6" fill="none" />
<path d="M613.1,712.1 L616.3000000000001,715.3000000000001 M616.3000000000001,712.1 L613.1,715.3000000000001" stroke="#8a8d93" stroke-width="0.6" fill="none" />
<path d="M613.1,733.1999999999999 L616.3000000000001,736.4 M616.3000000000001,733.1999999999999 L613.1,736.4" stroke="#8a8d93" stroke-width="0.6" fill="none" />
<path d="M613.1,755.6999999999999 L616.3000000000001,758.9 M616.3000000000001,755.6999999999999 L613.1,758.9" stroke="#8a8d93" stroke-width="0.6" fill="none" />
<path d="M613.1,779.8 L616.3000000000001,783.0 M616.3000000000001,779.8 L613.1,783.0" stroke="#8a8d93" stroke-width="0.6" fill="none" />
<path d="M613.1,800.9 L616.3000000000001,804.1 M616.3000000000001,800.9 L613.1,804.1" stroke="#8a8d93" stroke-width="0.6" fill="none" />
<path d="M613.1,818.4 L616.3000000000001,821.6 M616.3000000000001,818.4 L613.1,821.6" stroke="#8a8d93" stroke-width="0.6" fill="none" />
<path d="M697.4,759.4 C691,762 684,768 679.5,776 C676.5,783 677,791 680.7,795 C684,800 688,803.5 692.4,804.9 C696,805.5 700,805 704,803 C708,801 711,799 711.8,797 M698,758.5 L700.5,753.6 L702.9,757.3 C705,757 707,757 709.1,757.3 L712.2,755.4 L712.5,760.4 C712.5,763 712,765 711.6,767.2 M698,758.5 C696.5,762 696,765 696.1,767.8 M693.5,769 C695,771.5 697,772.5 699.2,772.5 C702,774 704.5,774.2 706.7,773.8 M711.6,767.2 C712.5,771 713.5,774 714.1,775.8 C717,781 720,786 722.7,790.2 C722.5,792 721,793 720,792.6 C718,790 716.5,788.5 715.3,787.6 C712,785 709,782 706.7,780.2 M695.5,777.7 C697,780 698,782 698.6,782.7 C700.5,785 702.5,787.5 704.2,788.8 C707,790.5 711,791.3 715.3,791.3 M688.1,783.6 H698.6 M692,780.5 C694,781 696,781.5 698,782.5 M686.2,797.5 C689,799.5 692,800.5 695.5,800 C699,799.5 702,798 704.2,796.3 C705.5,795 705.8,794 705.7,793.8 C705.3,792.8 704.8,792.6 704.2,792.6 M704,769 L706.5,769.5 M708,769 L710,768" stroke="#8a8d93" stroke-width="0.6" fill="none" />
<circle cx="700.30" cy="764.80" r="0.90" stroke="#8a8d93" stroke-width="0.6" fill="none"/>
<circle cx="706.20" cy="765.20" r="0.90" stroke="#8a8d93" stroke-width="0.6" fill="none"/>
</svg>
</body></html>
